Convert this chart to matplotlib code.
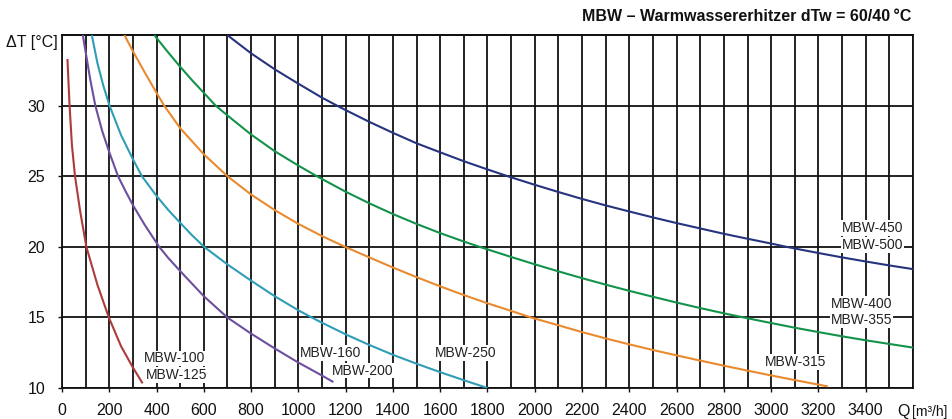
import numpy as np
import matplotlib.pyplot as plt

plt.rcParams['font.family'] = ['Liberation Sans', 'DejaVu Sans']

# ----------------------------------------------------------------------
# data: Q [m3/h] -> dT [C]
# ----------------------------------------------------------------------
q_100 = [23, 32, 42, 55, 77, 103, 150, 198, 250, 300, 341]
t_100 = [33.3, 30.0, 27.2, 25.0, 22.5, 20.0, 17.3, 15.0, 12.95, 11.45, 10.33]

q_160 = [88, 100, 120, 141, 170, 200, 237, 270, 300, 350, 411, 450, 500, 600, 699, 800, 900, 1000, 1100, 1148]
t_160 = [35.0, 33.8, 31.8, 30.0, 28.2, 26.7, 25.0, 23.9, 22.95, 21.55, 20.0, 19.2, 18.28, 16.5, 15.0, 13.85, 12.8,
         11.8, 10.88, 10.42]

q_250 = [126, 150, 175, 201, 250, 300, 338, 400, 450, 500, 550, 601, 700, 800, 900, 1000, 1050, 1100, 1200, 1300,
         1400, 1500, 1600, 1700, 1800]
t_250 = [35.0, 33.0, 31.4, 30.0, 27.9, 26.2, 25.0, 23.6, 22.6, 21.7, 20.82, 20.0, 18.75, 17.6, 16.5, 15.5, 15.05, 14.62,
         13.8, 13.05, 12.35, 11.72, 11.12, 10.55, 10.0]

q_315 = [264, 300, 350, 400, 432, 500, 600, 700, 800, 900, 1000, 1100, 1197, 1300, 1400, 1500, 1600, 1700, 1800,
         1900, 1983, 2100, 2200, 2300, 2400, 2500, 2600, 2700, 2800, 2900, 3000, 3100, 3200, 3240]
t_315 = [35.0, 33.85, 32.35, 30.9, 30.0, 28.4, 26.55, 25.0, 23.7, 22.6, 21.62, 20.76, 20.0, 19.25, 18.53, 17.85, 17.2,
         16.58, 16.0, 15.46, 15.0, 14.44, 13.96, 13.51, 13.09, 12.69, 12.31, 11.94, 11.58, 11.23, 10.89, 10.56, 10.24,
         10.11]

q_355 = [390, 450, 500, 550, 600, 650, 700, 800, 900, 1000, 1078, 1200, 1300, 1400, 1500, 1600, 1700, 1766, 1900,
         2000, 2100, 2200, 2300, 2400, 2500, 2600, 2700, 2800, 2882, 3000, 3100, 3200, 3300, 3400, 3500, 3600]
t_355 = [35.0, 33.75, 32.75, 31.8, 30.9, 30.0, 29.3, 27.95, 26.77, 25.75, 25.0, 23.9, 23.08, 22.32, 21.62, 20.97,
         20.37, 20.0, 19.28, 18.76, 18.26, 17.78, 17.32, 16.88, 16.46, 16.05, 15.66, 15.29, 15.0, 14.6, 14.27, 13.96,
         13.66, 13.38, 13.12, 12.86]

q_450 = [699, 800, 900, 1000, 1100, 1163, 1200, 1300, 1400, 1500, 1600, 1700, 1800, 1885, 2000, 2100, 2200, 2300,
         2400, 2500, 2600, 2700, 2800, 2900, 3000, 3064, 3100, 3200, 3300, 3400, 3500, 3600]
t_450 = [35.0, 33.7, 32.57, 31.55, 30.56, 30.0, 29.68, 28.85, 28.07, 27.33, 26.69, 26.06, 25.48, 25.0, 24.39, 23.88,
         23.39, 22.93, 22.5, 22.08, 21.68, 21.3, 20.92, 20.57, 20.23, 20.0, 19.88, 19.56, 19.25, 18.96, 18.68, 18.42]

curves = [
    (q_100, t_100, '#ae3b3b'),
    (q_160, t_160, '#6c4f9e'),
    (q_250, t_250, '#2f9db6'),
    (q_315, t_315, '#e98a2e'),
    (q_355, t_355, '#13934a'),
    (q_450, t_450, '#26347f'),
]

# labels: text, Q, dT (centre)
labels = [
    ('MBW-100', 476, 12.1), ('MBW-125', 485, 10.92),
    ('MBW-160', 1138, 12.46), ('MBW-200', 1272, 11.23),
    ('MBW-250', 1708, 12.46), ('MBW-315', 3102, 11.83),
    ('MBW-400', 3383, 15.93), ('MBW-355', 3383, 14.82),
    ('MBW-450', 3429, 21.31), ('MBW-500', 3429, 20.13),
]

x_ticks = list(range(0, 3600, 200))
y_ticks = [10, 15, 20, 25, 30]

fig = plt.figure(figsize=(9.53, 4.19), dpi=100)
ax = fig.add_axes([62 / 953, 1 - 388 / 419, 851 / 953, 353 / 419])

ax.set_xlim(0, 3600)
ax.set_ylim(10, 35)

# grid
ax.set_xticks(x_ticks)
ax.set_xticks(range(0, 3601, 100), minor=True)
ax.set_yticks(y_ticks)
ax.grid(which='both', axis='x', color='#111111', lw=1.3, zorder=1)
ax.grid(which='major', axis='y', color='#111111', lw=1.3, zorder=1)
ax.axhline(35, color='#111111', lw=1.3, clip_on=False)
ax.set_axisbelow(True)
for s in ax.spines.values():
    s.set_color('#111111')
    s.set_linewidth(1.3)

ax.tick_params(axis='both', which='major', direction='out', length=3, width=1, labelsize=11.5, colors='#111111')
ax.tick_params(axis='x', pad=8)
ax.tick_params(axis='y', pad=9)
ax.tick_params(which='minor', length=0)

for q, t, c in curves:
    ax.plot(q, t, color=c, lw=1.5, zorder=3, solid_capstyle='butt')

for txt, q, t in labels:
    ax.text(q, t, txt, ha='center', va='center', fontsize=10, color='#222222', zorder=4,
            bbox=dict(facecolor='white', edgecolor='none', pad=0.6))

ax.text(-0.005, 34.5, '\u0394T [°C]', ha='right', va='center', fontsize=11.5, color='#111111',
        transform=ax.get_yaxis_transform(), clip_on=False)

fig.text(897 / 953, 1 - 416 / 419, 'Q', ha='left', va='baseline', fontsize=11.5, color='#111111')
fig.text(912 / 953, 1 - 416 / 419, '[m³/h]', ha='left', va='baseline', fontsize=10, color='#111111')

fig.text(911 / 953, 1 - 21 / 419, 'MBW – Warmwassererhitzer dTw = 60/40\u2009°C', ha='right', va='baseline',
         fontsize=11.5, fontweight='bold', color='#111111')

fig.savefig('out.png', dpi=100)
